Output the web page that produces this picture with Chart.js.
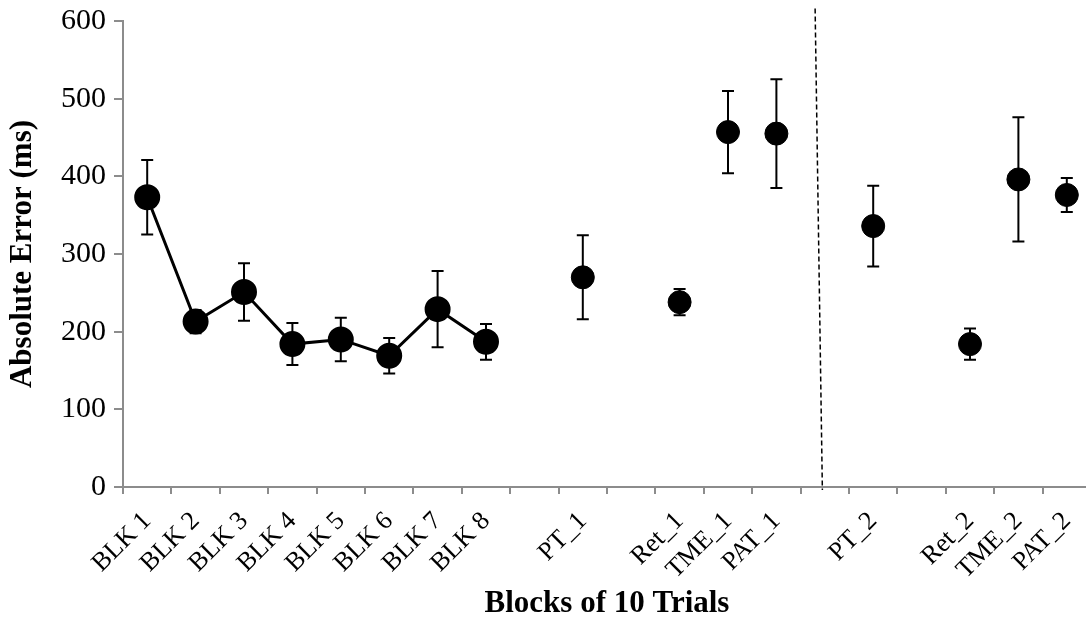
<!DOCTYPE html>
<html>
<head>
<meta charset="utf-8">
<script src="https://cdn.jsdelivr.net/npm/chart.js@4.4.0/dist/chart.umd.min.js"></script>
<style>
  html, body { margin: 0; padding: 0; background: #fff; overflow: hidden; }
  #wrap { width: 1106px; height: 627px; }
</style>
</head>
<body>
<div id="wrap"><canvas id="myChart"></canvas></div>
<script>
// Data

const categories = ['BLK 1', 'BLK 2', 'BLK 3', 'BLK 4', 'BLK 5', 'BLK 6', 'BLK 7', 'BLK 8', '',
  'PT_1', '', 'Ret_1', 'TME_1', 'PAT_1', '', 'PT_2', '', 'Ret_2', 'TME_2', 'PAT_2'];

const blockLabels = ['BLK 1', 'BLK 2', 'BLK 3', 'BLK 4', 'BLK 5', 'BLK 6', 'BLK 7', 'BLK 8'];
const blockMeans = [373, 213, 251, 184, 190, 169, 229, 187];
const blockErrors = [48, 15, 37, 27, 28, 23, 49, 23];

const testLabels = ['PT_1', 'Ret_1', 'TME_1', 'PAT_1', 'PT_2', 'Ret_2', 'TME_2', 'PAT_2'];
const testMeans = [270, 238, 457, 455, 336, 184, 396, 376];
const testErrors = [54, 17, 53, 70, 52, 20, 80, 22];

const yTicks = [0, 100, 200, 300, 400, 500, 600];

// dashed divider between the two sessions (category units / ms)
const dividerX = [13.8, 13.95];
const dividerY = [616, -4];

Chart.defaults.font.family = '"Liberation Serif", "Times New Roman", serif';
Chart.defaults.color = '#000';

// error bars drawn under the markers
const errorBars = {
  id: 'errorBars',
  beforeDatasetsDraw(chart) {
    const ctx = chart.ctx;
    const yScale = chart.scales.y;
    ctx.save();
    ctx.strokeStyle = '#000';
    ctx.lineWidth = 2;
    chart.data.datasets.forEach((ds, di) => {
      if (!ds.errors) return;
      const meta = chart.getDatasetMeta(di);
      meta.data.forEach((pt, i) => {
        const v = ds.data[i].y;
        const top = yScale.getPixelForValue(v + ds.errors[i]);
        const bot = yScale.getPixelForValue(v - ds.errors[i]);
        ctx.beginPath();
        ctx.moveTo(pt.x, top);
        ctx.lineTo(pt.x, bot);
        ctx.moveTo(pt.x - 6, top);
        ctx.lineTo(pt.x + 6, top);
        ctx.moveTo(pt.x - 6, bot);
        ctx.lineTo(pt.x + 6, bot);
        ctx.stroke();
      });
    });
    ctx.restore();
  }
};

const axisGrey = '#8c8c8c';

new Chart(document.getElementById('myChart'), {
  type: 'line',
  data: {
    labels: categories,
    datasets: [
      {
        label: 'Blocks',
        data: blockLabels.map((l, i) => ({ x: l, y: blockMeans[i] })),
        errors: blockErrors,
        borderColor: '#000',
        borderWidth: 3,
        pointRadius: 11.5,
        pointBackgroundColor: '#000',
        pointBorderColor: '#000',
        tension: 0
      },
      {
        label: 'Tests',
        data: testLabels.map((l, i) => ({ x: l, y: testMeans[i] })),
        errors: testErrors,
        showLine: false,
        pointRadius: 11.5,
        pointBackgroundColor: '#000',
        pointBorderColor: '#000'
      },
      {
        label: 'Divider',
        xAxisID: 'x2',
        data: dividerX.map((x, i) => ({ x: x, y: dividerY[i] })),
        borderColor: '#000',
        borderWidth: 1.5,
        borderDash: [5, 3],
        pointRadius: 0,
        clip: false
      }
    ]
  },
  options: {
    responsive: true,
    maintainAspectRatio: false,
    animation: false,
    layout: { padding: { top: 21, right: 15, left: 0, bottom: 0 } },
    plugins: {
      legend: { display: false },
      tooltip: { enabled: false }
    },
    scales: {
      x: {
        type: 'category',
        offset: true,
        border: { color: axisGrey, width: 2 },
        grid: { offset: true, drawOnChartArea: false, tickLength: 7, color: axisGrey, lineWidth: 2 },
        ticks: { autoSkip: false, maxRotation: 45, minRotation: 45, font: { size: 26 }, padding: 12 },
        title: { display: true, text: 'Blocks of 10 Trials', font: { size: 31, weight: 'bold' }, padding: { top: 4, bottom: 4 } },
        afterFit(s) { s.height = 140; }
      },
      x2: { type: 'linear', min: -0.5, max: 19.5, display: false },
      y: {
        min: 0,
        max: 600,
        afterBuildTicks(s) { s.ticks = yTicks.map(v => ({ value: v })); },
        border: { color: axisGrey, width: 2 },
        grid: { drawOnChartArea: false, tickLength: 9, color: axisGrey, lineWidth: 2 },
        ticks: { font: { size: 30 }, padding: 8 },
        title: { display: true, text: 'Absolute Error (ms)', font: { size: 31, weight: 'bold' }, padding: { top: 4, bottom: 4 } },
        afterFit(s) {
          s.width = 123;
          s.paddingTop = 0;
          s.paddingBottom = 0;
        }
      }
    }
  },
  plugins: [errorBars]
});
</script>
</body>
</html>
